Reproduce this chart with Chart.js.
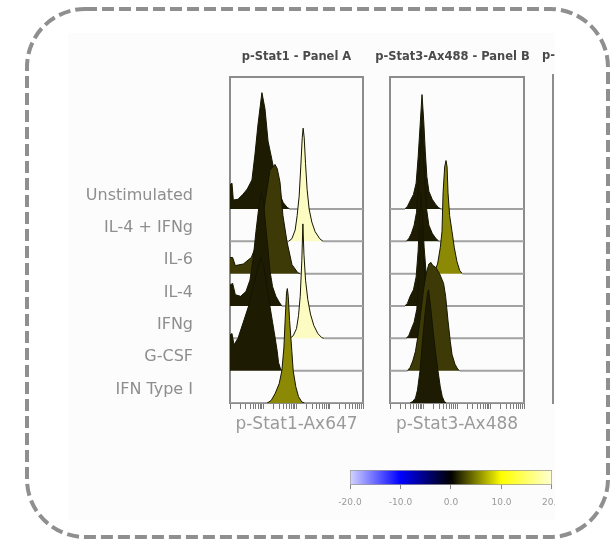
<!DOCTYPE html>
<html><head><meta charset="utf-8">
<script src="https://cdn.jsdelivr.net/npm/chart.js@4.4.1/dist/chart.umd.min.js"></script>
<style>
html,body{margin:0;padding:0;background:#fff;width:615px;height:541px;overflow:hidden;font-family:'DejaVu Sans',sans-serif}
#frame{position:absolute;left:0;top:0}
#clip{position:absolute;left:0;top:0;width:555px;height:541px;overflow:hidden;filter:blur(0.45px)}
#paper{position:absolute;left:68px;top:33px;width:487px;height:487px;background:#fcfcfc}
canvas{position:absolute}
#cA{left:70px;top:40px}
#cB{left:365px;top:40px}
#cBar{left:330px;top:460px}
#pC{position:absolute;left:552px;top:74px;width:2px;height:330px;background:#8c8c8c}
#tC{position:absolute;left:542px;top:48px;font:bold 11.5px 'DejaVu Sans',sans-serif;color:#4a4a4a;white-space:nowrap}
</style></head><body>
<svg id="frame" width="615" height="541"><rect x="27" y="9" width="581" height="528" rx="58" ry="58" fill="none" stroke="#8f8f8f" stroke-width="4" stroke-dasharray="12 5"/></svg>
<div id="clip">
  <div id="paper"></div>
  <canvas id="cA" width="300" height="400"></canvas>
  <canvas id="cB" width="175" height="400"></canvas>
  <div id="pC"></div><div id="tC">p-</div>
  <canvas id="cBar" width="240" height="60"></canvas>
</div>
<script>
// ---------- data ----------
const conditions = ['Unstimulated','IL-4 + IFNg','IL-6','IL-4','IFNg','G-CSF','IFN Type I'];
const panelTitles = ['p-Stat1 - Panel A','p-Stat3-Ax488 - Panel B'];
const axisTitles = ['p-Stat1-Ax647','p-Stat3-Ax488'];

// histograms: [channel position (0-100), height in row units]
const stat1Unstim = [[0,0.75],[1.5,0.8],[2.5,0.28],[6,0.3],[9.8,0.46],[13,0.62],[16.5,0.9],[18.8,1.7],[21,2.6],[22.8,3.2],[24,3.6],[26.3,3.1],[28.6,2.1],[31.3,1.57],[34,1.0],[37,0.5],[40,0.2],[43,0.05],[45,0],[100,0]];
const stat1IL4IFNg = [[0,0],[44,0],[46.5,0.08],[49,0.35],[50.5,0.8],[52,1.4],[53.2,2.3],[54.3,3.2],[55,3.5],[55.8,3.2],[56.8,2.4],[58,1.6],[59.5,1.0],[61.5,0.6],[64,0.3],[67.5,0.08],[70,0],[100,0]];
const stat1IL6 = [[0,0.5],[2,0.5],[4,0.25],[10,0.3],[16,0.5],[20,0.9],[24,1.6],[27.8,2.6],[30,3.2],[33.8,3.38],[35.5,3.25],[37.6,2.83],[39.8,1.8],[42.9,0.98],[46.6,0.28],[51,0.03],[53,0],[100,0]];
const stat1IL4 = [[0,0.65],[2,0.7],[4,0.35],[8,0.3],[12,0.45],[15,0.8],[17.5,1.5],[19.5,2.3],[21.5,3.0],[23.5,3.5],[25,3.3],[27,2.4],[28.5,1.8],[30,1.1],[32,0.6],[34.5,0.3],[37,0.12],[39,0],[100,0]];
const stat1IFNg = [[0,0],[45,0],[47.5,0.08],[50,0.3],[51.5,0.7],[52.8,1.3],[54,2.4],[54.8,3.54],[55.6,2.6],[56.8,1.8],[58.5,1.2],[60.5,0.75],[63,0.4],[66,0.15],[69,0.02],[71,0],[100,0]];
const stat1GCSF = [[0,1.1],[1.5,1.15],[3,0.8],[6,1.0],[10,1.5],[14,2.0],[17.5,2.6],[20.5,3.1],[23,3.5],[25.5,3.2],[28,2.5],[30,2.0],[32,1.5],[34,1.0],[35.5,0.6],[36.5,0.25],[38,0.05],[39.5,0],[100,0]];
const stat1IFN1 = [[0,0],[28,0],[31,0.08],[34,0.3],[37,0.6],[39,1.0],[40.5,1.7],[41.5,2.6],[42.5,3.4],[43.1,3.54],[43.8,3.3],[44.8,2.55],[46.5,1.6],[47.5,1.0],[49.5,0.5],[51.5,0.2],[54,0.03],[56,0],[100,0]];

const stat3Unstim = [[0,0],[11,0],[13,0.08],[15,0.25],[17.5,0.45],[19.5,0.8],[21,1.6],[22.5,2.6],[23.9,3.54],[25.2,2.7],[26.3,1.8],[27.5,1.0],[29,0.55],[31.5,0.3],[34,0.15],[36,0.05],[38,0],[100,0]];
const stat3IL4IFNg = [[0,0],[12,0],[14,0.08],[16,0.25],[18,0.5],[19.8,0.9],[21.2,1.7],[22.5,2.7],[23.5,3.45],[24.8,2.7],[26,1.8],[27.3,1.0],[29,0.5],[31.5,0.25],[34,0.1],[36.5,0],[100,0]];
const stat3IL6 = [[0,0],[30,0],[33,0.05],[35.5,0.3],[37.5,0.8],[38.8,1.3],[39.6,2.5],[40.8,3.3],[41.8,3.5],[42.6,3.3],[43.3,2.5],[44.5,1.8],[46.3,1.3],[48,0.8],[50,0.37],[52,0.1],[54,0],[100,0]];
const stat3IL4 = [[0,0],[11,0],[13,0.08],[15,0.3],[17.5,0.5],[19.5,0.9],[21,1.7],[22,2.7],[23,3.5],[24.3,2.7],[25.5,1.8],[27,1.0],[28.5,0.5],[31,0.25],[33.5,0.1],[36,0],[100,0]];
const stat3IFNg = [[0,0],[12,0],[14,0.08],[16,0.3],[18,0.5],[20,0.9],[21.3,1.7],[22.5,2.7],[23.5,3.5],[24.8,2.7],[26,1.8],[27.5,1.0],[29,0.5],[31.5,0.25],[34,0.1],[36.5,0],[100,0]];
const stat3GCSF = [[0,0],[13,0],[15,0.1],[17,0.3],[19,0.6],[21,1.1],[23,1.8],[25,2.5],[27,3.0],[29,3.3],[30.5,3.35],[32,3.25],[34,3.2],[37,3.0],[40,2.7],[41.5,2.3],[43.3,1.54],[45,0.9],[46.3,0.5],[48.5,0.2],[50.5,0.05],[52,0],[100,0]];
const stat3IFN1 = [[0,0],[15,0],[17,0.05],[19,0.15],[20.5,0.4],[22.4,1.0],[24,1.8],[26,2.7],[28,3.4],[28.8,3.5],[30.5,2.9],[32.5,2.1],[34.5,1.4],[35.8,1.0],[37.5,0.5],[39,0.2],[40.5,0.05],[42,0],[100,0]];

const black = '#1d1c03', darkOlive = '#3d3a07', oliveYellow = '#8c8904', paleYellow = '#fcfbc2';
const stat1Colors = [black, paleYellow, darkOlive, black, paleYellow, black, oliveYellow];
const stat3Colors = [black, black, oliveYellow, black, black, darkOlive, black];

const decadeStarts = [0, 25, 50, 75];
const minorMultipliers = [1,2,3,4,5,6,7,8,9];
const xTickValues = decadeStarts.flatMap(d => minorMultipliers.map(m => d + 25*Math.log10(m))).concat([100]);

const colorbarTicks = [-20, -10, 0, 10, 20];
const colorbarStops = [[-20,'#d4d4ff'],[-10,'#0000ff'],[0,'#000000'],[10,'#ffff00'],[20,'#ffffd4']];

// ---------- rendering ----------
const F = "'DejaVu Sans', sans-serif";
const frameColor = '#8c8c8c', rowLine = '#a2a2a2', outline = '#151500';
const yMax = 10.09, labelOffset = 0.42;

function panel(id, hists, colors, title, axisTitle, o) {
  const n = conditions.length;
  const datasets = hists.map((pts, i) => {
    const base = n - 1 - i;
    const onBase = c => c.p0.parsed.y === base && c.p1.parsed.y === base;
    return {
      data: pts.map(([x, h]) => ({x, y: base + h})),
      fill: {value: base},
      backgroundColor: colors[i],
      borderColor: outline,
      borderWidth: 1,
      pointRadius: 0,
      tension: 0,
      order: base,
      segment: {
        borderColor: c => onBase(c) ? rowLine : outline,
        borderWidth: c => onBase(c) ? 2 : 1
      }
    };
  });
  const noPad = s => { s.paddingTop = 0; s.paddingBottom = 0; };
  const hidden = {ticks:{display:false}, grid:{drawOnChartArea:false, drawTicks:false}, border:{display:true, color:frameColor, width:2}};
  new Chart(document.getElementById(id), {
    type: 'line',
    data: {datasets},
    options: {
      responsive:false, animation:false, devicePixelRatio:1,
      layout:{padding:{left:0, right:o.padR, top:0, bottom:0}},
      plugins:{
        legend:{display:false}, tooltip:{enabled:false},
        title:{display:true, text:title, fullSize:o.fullTitle, color:'#4a4a4a',
          font:{family:F, size:11.5, weight:'bold'}, lineHeight:1, padding:{top:10, bottom:13}}
      },
      scales:{
        x:{type:'linear', min:0, max:100, position:'bottom',
          afterBuildTicks: s => { s.ticks = xTickValues.map(v => ({value:v})); },
          afterFit: s => { s.height = 37; },
          ticks:{display:false},
          grid:{drawOnChartArea:false, drawTicks:true, tickLength:6, color:'#7a7a7a', lineWidth:1},
          border:{display:true, color:frameColor, width:2},
          title:{display:true, text:axisTitle, color:'#9a9a9a', font:{family:F, size:17}, padding:{top:0, bottom:5}}},
        x2:Object.assign({type:'linear', min:0, max:100, position:'top', afterFit: s => { s.height = 0; }}, hidden),
        y:{type:'linear', min:0, max:yMax, position:'left',
          afterFit: s => { s.width = o.yWidth; noPad(s); },
          afterBuildTicks: s => { s.ticks = conditions.map((_, i) => ({value: n - 1 - i + labelOffset})); },
          ticks:{display:o.labels, autoSkip:false, padding:37, color:'#8e8e8e', font:{family:F, size:16},
            callback:(v, idx) => conditions[idx]},
          grid:{drawOnChartArea:false, drawTicks:false},
          border:{display:true, color:frameColor, width:2}},
        y2:Object.assign({type:'linear', min:0, max:yMax, position:'right', afterFit: s => { s.width = o.y2Width; noPad(s); }}, hidden)
      }
    }
  });
}

panel('cA', [stat1Unstim, stat1IL4IFNg, stat1IL6, stat1IL4, stat1IFNg, stat1GCSF, stat1IFN1], stat1Colors,
  panelTitles[0], axisTitles[0], {padR:7, y2Width:0, yWidth:160, labels:true, fullTitle:false});
panel('cB', [stat3Unstim, stat3IL4IFNg, stat3IL6, stat3IL4, stat3IFNg, stat3GCSF, stat3IFN1], stat3Colors,
  panelTitles[1], axisTitles[1], {padR:0, y2Width:16, yWidth:25, labels:false, fullTitle:true});

// colour scale bar
new Chart(document.getElementById('cBar'), {
  type:'bar',
  data:{labels:[''], datasets:[{
    data:[[colorbarTicks[0], colorbarTicks[colorbarTicks.length-1]]],
    backgroundColor: c => {
      const ch = c.chart; if (!ch.chartArea) return '#000';
      const xs = ch.scales.x;
      const lo = colorbarStops[0][0], hi = colorbarStops[colorbarStops.length-1][0];
      const g = ch.ctx.createLinearGradient(xs.getPixelForValue(lo), 0, xs.getPixelForValue(hi), 0);
      colorbarStops.forEach(([v, col]) => g.addColorStop((v - lo) / (hi - lo), col));
      return g;
    },
    borderColor:'#9a9a9a', borderWidth:1, borderSkipped:false, barPercentage:1, categoryPercentage:1
  }]},
  options:{
    indexAxis:'y', responsive:false, animation:false, devicePixelRatio:1,
    layout:{padding:{left:20, right:16, top:10, bottom:0}},
    plugins:{legend:{display:false}, tooltip:{enabled:false}},
    scales:{
      x:{type:'linear', min:-20, max:20,
        afterBuildTicks: s => { s.ticks = colorbarTicks.map(v => ({value:v})); },
        afterFit: s => { s.height = 35; },
        ticks:{color:'#9a9a9a', font:{family:F, size:9}, padding:8, maxRotation:0, autoSkip:false, callback: v => v.toFixed(1)},
        grid:{drawOnChartArea:false, tickLength:4, color:'#888'},
        border:{display:false}},
      y:{display:false}
    }
  }
});
</script>
</body></html>
